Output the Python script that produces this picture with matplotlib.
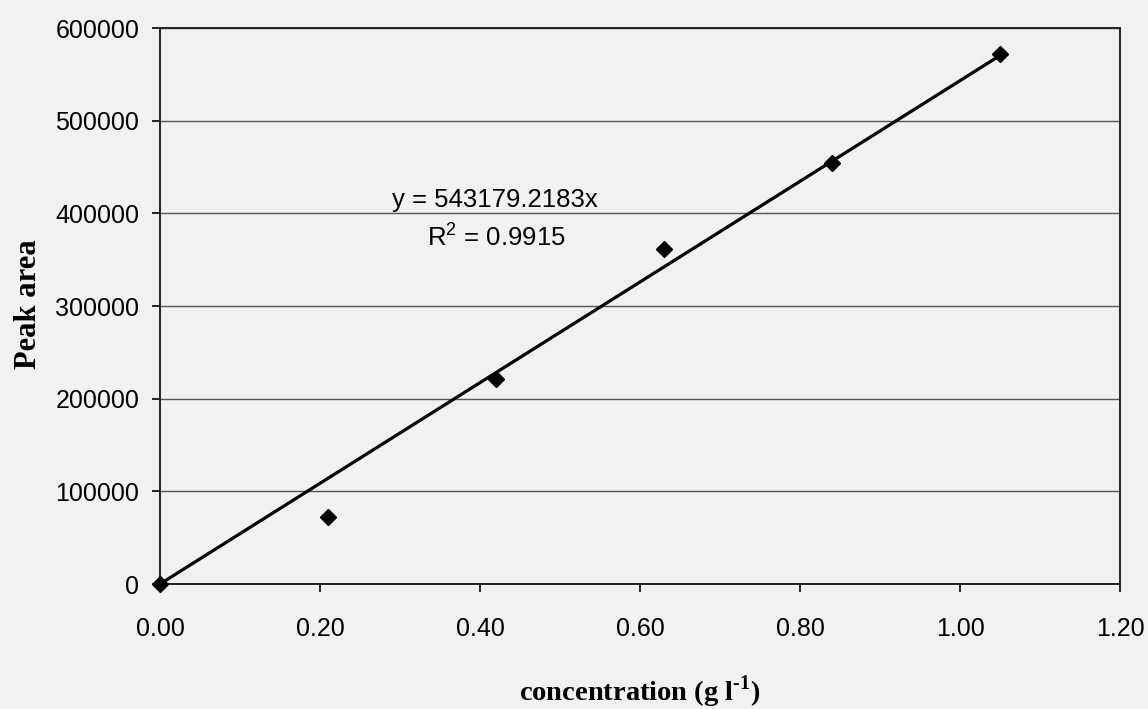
import matplotlib.pyplot as plt
import numpy as np

# calibration data
concentration = [0.0, 0.21, 0.42, 0.63, 0.84, 1.05]
peak_area = [0, 72000, 221000, 361000, 454000, 572000]
slope = 543179.2183
r_squared = 0.9915

x_ticks = [0.0, 0.2, 0.4, 0.6, 0.8, 1.0, 1.2]
y_ticks = [0, 100000, 200000, 300000, 400000, 500000, 600000]

plt.rcParams['font.family'] = ['Liberation Sans', 'DejaVu Sans']
plt.rcParams['mathtext.fontset'] = 'custom'
plt.rcParams['mathtext.rm'] = 'Liberation Serif:bold'
plt.rcParams['mathtext.sf'] = 'Liberation Sans'
bg = '#f1f1f1'

fig = plt.figure(figsize=(11.48, 7.09), dpi=100, facecolor=bg)
ax = fig.add_axes([160 / 1148, 1 - 584 / 709, 960 / 1148, 556 / 709])
ax.set_facecolor(bg)

# trendline through origin
fit_x = np.array([0.0, max(concentration)])
ax.plot(fit_x, slope * fit_x, color='black', lw=2.3, zorder=3)
ax.plot(concentration, peak_area, linestyle='none', marker='D', markersize=8,
        color='black', zorder=4, clip_on=False)

ax.set_xlim(0, 1.2)
ax.set_ylim(0, 600000)
ax.set_xticks(x_ticks)
ax.set_xticklabels([f'{v:.2f}' for v in x_ticks])
ax.set_yticks(y_ticks)
ax.set_yticklabels([str(v) for v in y_ticks])
ax.tick_params(direction='out', length=6, width=1.2, labelsize=18, colors='black')
ax.tick_params(axis='x', pad=18)
ax.tick_params(axis='y', pad=9)
ax.yaxis.grid(True, color='#555555', lw=1.0)
ax.set_axisbelow(True)
for s in ax.spines.values():
    s.set_color('#222222')
    s.set_linewidth(1.4)

ax.text(0.419, 406700, 'y = 543179.2183x', ha='center', va='baseline', fontsize=18.5)
ax.text(0.421, 365700, 'R$^{\\mathsf{2}}$ = ' + f'{r_squared}', ha='center', va='baseline',
        fontsize=18.5)

ax.set_xlabel('concentration (g l$^{\\text{-1}}$)', fontsize=20.5, fontweight='bold',
              family='Liberation Serif', va='center')
ax.xaxis.set_label_coords(0.5, -0.194)
ax.set_ylabel('Peak area', fontsize=22, fontweight='bold',
              family='Liberation Serif', va='center')
ax.yaxis.set_label_coords(-0.1375, 0.5036)

fig.savefig('out.png', dpi=100, facecolor=bg)
